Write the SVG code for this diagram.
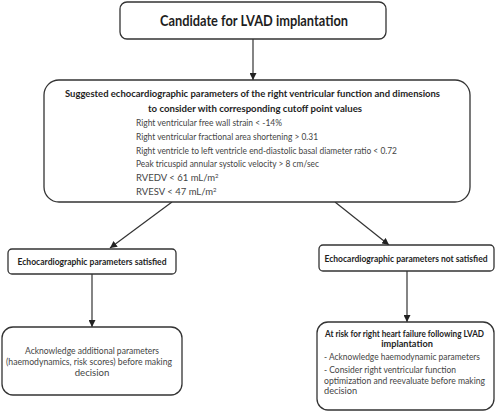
<svg xmlns="http://www.w3.org/2000/svg" width="500" height="412" viewBox="0 0 500 412">
<defs>
<style>
.box{fill:#fff;stroke:#333;stroke-width:1.3}
.b{font-family:Lato,"Open Sans","Liberation Sans",sans-serif;font-weight:bold;fill:#1e1e1e}
.r{font-family:Lato,"Open Sans","Liberation Sans",sans-serif;fill:#444}
.c{stroke:#333;stroke-width:1.2;fill:none;marker-end:url(#ah)}
</style>
<marker id="ah" viewBox="0 0 10 10" refX="10" refY="5" markerWidth="7" markerHeight="7" markerUnits="userSpaceOnUse" orient="auto">
<path d="M0,0 L10,5 L0,10 z" fill="#222"/>
</marker>
</defs>
<rect width="500" height="412" fill="#fff"/>
<g id="connectors">
<line class="c" x1="253" y1="39" x2="253" y2="80"/>
<line class="c" x1="172" y1="202" x2="110" y2="248"/>
<line class="c" x1="335" y1="202" x2="389" y2="245"/>
<line class="c" x1="92" y1="274" x2="92" y2="327"/>
<line class="c" x1="407" y1="271" x2="407" y2="322"/>
</g>
<g id="candidate">
<rect class="box" x="120" y="2" width="266" height="37" rx="7"/>
<text class="b" x="254" y="25.5" font-size="14.5" text-anchor="middle" textLength="188" lengthAdjust="spacingAndGlyphs">Candidate for LVAD implantation</text>
</g>
<g id="parameters">
<rect class="box" x="44" y="80" width="426" height="122" rx="15"/>
<text class="b" x="252.5" y="97" font-size="10" text-anchor="middle" textLength="375" lengthAdjust="spacingAndGlyphs">Suggested echocardiographic parameters of the right ventricular function and dimensions</text>
<text class="b" x="255" y="112" font-size="10" text-anchor="middle" textLength="214" lengthAdjust="spacingAndGlyphs">to consider with  corresponding cutoff point values</text>
<text class="r" x="136" y="126" font-size="9.5" textLength="146" lengthAdjust="spacingAndGlyphs">Right ventricular free wall strain &lt; -14%</text>
<text class="r" x="136" y="140" font-size="9.5" textLength="182" lengthAdjust="spacingAndGlyphs">Right ventricular fractional area shortening  &gt; 0.31</text>
<text class="r" x="136" y="154" font-size="9.5" textLength="261" lengthAdjust="spacingAndGlyphs">Right ventricle to left ventricle end-diastolic basal diameter ratio &lt; 0.72</text>
<text class="r" x="136" y="167" font-size="9.5" textLength="183" lengthAdjust="spacingAndGlyphs">Peak tricuspid annular systolic velocity &gt; 8 cm/sec</text>
<text class="r" x="136" y="181" font-size="9.5">RVEDV &lt; 61 mL/m<tspan font-size="6" dy="-3.5">2</tspan></text>
<text class="r" x="136" y="195" font-size="9.5">RVESV &lt; 47 mL/m<tspan font-size="6" dy="-3.5">2</tspan></text>
</g>
<g id="satisfied">
<rect class="box" x="8" y="249" width="168" height="25" rx="4"/>
<text class="b" x="92" y="265" font-size="9.2" text-anchor="middle" textLength="149" lengthAdjust="spacingAndGlyphs">Echocardiographic parameters satisfied</text>
</g>
<g id="not-satisfied">
<rect class="box" x="319" y="245" width="175" height="26" rx="4"/>
<text class="b" x="406" y="261.5" font-size="8.6" text-anchor="middle" textLength="163" lengthAdjust="spacingAndGlyphs">Echocardiographic parameters not satisfied</text>
</g>
<g id="acknowledge">
<rect class="box" x="2" y="327" width="180" height="68" rx="11"/>
<text class="r" x="92" y="354" font-size="9.6" text-anchor="middle" textLength="134" lengthAdjust="spacingAndGlyphs">Acknowledge additional parameters</text>
<text class="r" x="89" y="365" font-size="9.6" text-anchor="middle" textLength="166" lengthAdjust="spacingAndGlyphs">(haemodynamics, risk scores) before making</text>
<text class="r" x="92" y="375.5" font-size="9.6" text-anchor="middle">decision</text>
</g>
<g id="at-risk">
<rect class="box" x="317" y="322" width="177" height="88" rx="11"/>
<text class="b" x="404.5" y="336.5" font-size="8.8" text-anchor="middle" textLength="159" lengthAdjust="spacingAndGlyphs">At risk for right heart failure following LVAD</text>
<text class="b" x="407" y="347" font-size="9.2" text-anchor="middle">implantation</text>
<text class="r" x="324" y="359.5" font-size="9" textLength="156" lengthAdjust="spacingAndGlyphs">- Acknowledge haemodynamic parameters</text>
<text class="r" x="324" y="373" font-size="9.2" textLength="132" lengthAdjust="spacingAndGlyphs">- Consider right ventricular function</text>
<text class="r" x="324" y="383.5" font-size="9" textLength="161" lengthAdjust="spacingAndGlyphs">optimization and reevaluate before making</text>
<text class="r" x="324" y="394" font-size="9.2">decision</text>
</g>
</svg>
